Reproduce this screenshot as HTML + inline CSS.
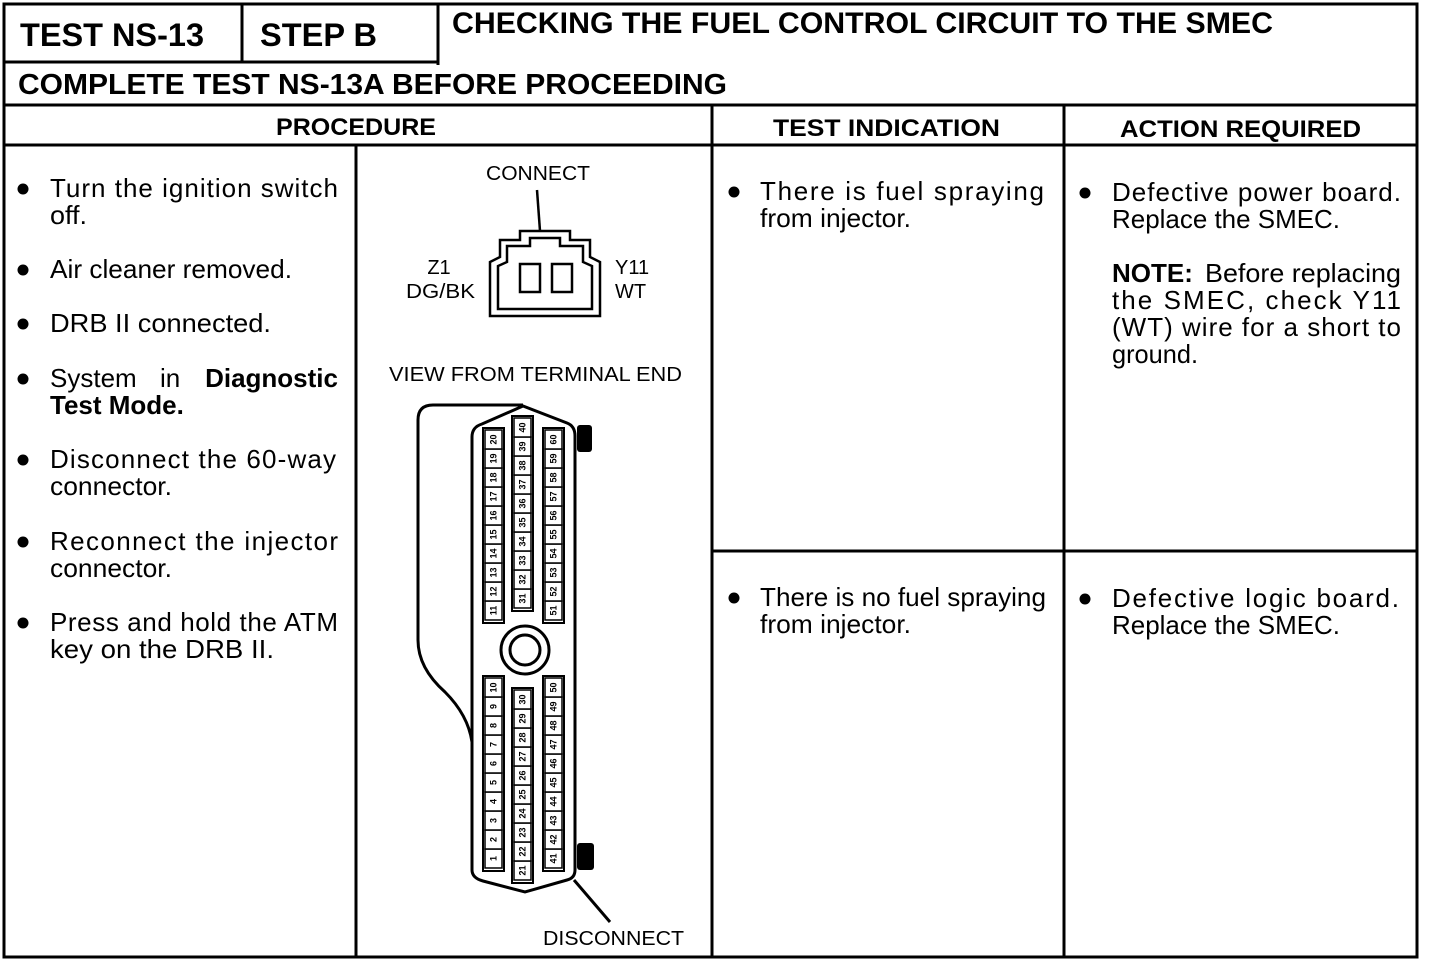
<!DOCTYPE html>
<html><head><meta charset="utf-8"><style>
html,body{margin:0;padding:0;background:#fff}
svg{display:block}
text{font-family:"Liberation Sans",Arial,sans-serif;fill:#000}
.b{font-weight:bold}
.t{font-size:26px}
.p rect{fill:#fff;stroke:#000;stroke-width:1.5}
.p text{font-size:9px;font-weight:bold;text-anchor:middle;dominant-baseline:central}
</style></head><body>
<svg width="1440" height="966" viewBox="0 0 1440 966" xmlns="http://www.w3.org/2000/svg">
<g stroke="#000" stroke-width="3" fill="none">
<rect x="4" y="4" width="1413" height="953"/>
<line x1="4" y1="62" x2="438" y2="62"/>
<line x1="242" y1="4" x2="242" y2="62"/>
<line x1="438" y1="4" x2="438" y2="65"/>
<line x1="4" y1="105" x2="1417" y2="105"/>
<line x1="4" y1="145" x2="1417" y2="145"/>
<line x1="712" y1="105" x2="712" y2="957"/>
<line x1="1064" y1="105" x2="1064" y2="957"/>
<line x1="356" y1="145" x2="356" y2="957"/>
<line x1="712" y1="551" x2="1417" y2="551"/>
</g>
<text x="20" y="46" class="b" font-size="32" textLength="184" lengthAdjust="spacingAndGlyphs">TEST NS-13</text>
<text x="260" y="46" class="b" font-size="32" textLength="117" lengthAdjust="spacingAndGlyphs">STEP B</text>
<text x="452" y="33" class="b" font-size="30" textLength="821" lengthAdjust="spacingAndGlyphs">CHECKING THE FUEL CONTROL CIRCUIT TO THE SMEC</text>
<text x="18" y="94" class="b" font-size="29" textLength="709" lengthAdjust="spacingAndGlyphs">COMPLETE TEST NS-13A BEFORE PROCEEDING</text>
<text x="276" y="135" class="b" font-size="24" textLength="160" lengthAdjust="spacingAndGlyphs">PROCEDURE</text>
<text x="773" y="136" class="b" font-size="24" textLength="227" lengthAdjust="spacingAndGlyphs">TEST INDICATION</text>
<text x="1120" y="137" class="b" font-size="24" textLength="241" lengthAdjust="spacingAndGlyphs">ACTION REQUIRED</text>
<g fill="#000">
<circle cx="23" cy="189" r="5.5"/><circle cx="23" cy="270" r="5.5"/><circle cx="23" cy="324" r="5.5"/>
<circle cx="23" cy="379" r="5.5"/><circle cx="23" cy="460" r="5.5"/><circle cx="23" cy="542" r="5.5"/>
<circle cx="23" cy="623" r="5.5"/>
<circle cx="734" cy="192" r="5.5"/><circle cx="734" cy="598" r="5.5"/>
<circle cx="1085" cy="193" r="5.5"/><circle cx="1085" cy="599" r="5.5"/>
</g>
<g class="t">
<text x="50" y="197" textLength="288" lengthAdjust="spacing">Turn the ignition switch</text>
<text x="50" y="224" textLength="37" lengthAdjust="spacingAndGlyphs">off.</text>
<text x="50" y="278" textLength="242" lengthAdjust="spacingAndGlyphs">Air cleaner removed.</text>
<text x="50" y="332" textLength="221" lengthAdjust="spacingAndGlyphs">DRB II connected.</text>
<text x="50" y="387">System</text><text x="160" y="387">in</text>
<text x="338" y="387" class="b" text-anchor="end">Diagnostic</text>
<text x="50" y="414" class="b">Test Mode.</text>
<text x="50" y="468" textLength="286" lengthAdjust="spacing">Disconnect the 60-way</text>
<text x="50" y="495" textLength="122" lengthAdjust="spacingAndGlyphs">connector.</text>
<text x="50" y="550" textLength="288" lengthAdjust="spacing">Reconnect the injector</text>
<text x="50" y="577" textLength="122" lengthAdjust="spacingAndGlyphs">connector.</text>
<text x="50" y="631" textLength="288" lengthAdjust="spacing">Press and hold the ATM</text>
<text x="50" y="658" textLength="224" lengthAdjust="spacingAndGlyphs">key on the DRB II.</text>

<text x="760" y="200" textLength="284" lengthAdjust="spacing">There is fuel spraying</text>
<text x="760" y="227" textLength="151" lengthAdjust="spacingAndGlyphs">from injector.</text>
<text x="760" y="606" textLength="286" lengthAdjust="spacingAndGlyphs">There is no fuel spraying</text>
<text x="760" y="633" textLength="151" lengthAdjust="spacingAndGlyphs">from injector.</text>

<text x="1112" y="201" textLength="289" lengthAdjust="spacing">Defective power board.</text>
<text x="1112" y="228" textLength="228" lengthAdjust="spacingAndGlyphs">Replace the SMEC.</text>
<text x="1112" y="282" class="b">NOTE:</text>
<text x="1401" y="282" text-anchor="end" textLength="196" lengthAdjust="spacingAndGlyphs">Before replacing</text>
<text x="1112" y="309" textLength="289" lengthAdjust="spacing">the SMEC, check Y11</text>
<text x="1112" y="336" textLength="289" lengthAdjust="spacing">(WT) wire for a short to</text>
<text x="1112" y="363" textLength="86" lengthAdjust="spacingAndGlyphs">ground.</text>
<text x="1112" y="607" textLength="287" lengthAdjust="spacing">Defective logic board.</text>
<text x="1112" y="634" textLength="228" lengthAdjust="spacingAndGlyphs">Replace the SMEC.</text>
</g>
<g font-size="20">
<text x="486" y="180" textLength="104" lengthAdjust="spacingAndGlyphs">CONNECT</text>
<text x="439" y="274" text-anchor="middle">Z1</text>
<text x="406" y="298" textLength="69" lengthAdjust="spacingAndGlyphs">DG/BK</text>
<text x="615" y="274">Y11</text>
<text x="615" y="298">WT</text>
<text x="389" y="381" textLength="293" lengthAdjust="spacingAndGlyphs">VIEW FROM TERMINAL END</text>
<text x="543" y="945" textLength="141" lengthAdjust="spacingAndGlyphs">DISCONNECT</text>
</g>
<g stroke="#000" stroke-width="2.5" fill="none">
<line x1="537" y1="190" x2="540" y2="231"/>
<path d="M520,231 L570,231 L570,240 L590,240 L590,257 L600,262 L600,316 L490,316 L490,262 L500,257 L500,240 L520,240 Z"/>
<path d="M530,238 L560,238 L560,246 L583,246 L583,262 L592,266 L592,309 L498,309 L498,266 L507,262 L507,246 L530,246 Z"/>
<rect x="520" y="264" width="20" height="28"/>
<rect x="552" y="264" width="20" height="28"/>
</g>
<g stroke="#000" stroke-width="3" fill="none">
<path d="M472,742 Q468,715 445,692 Q418,668 418,640 L418,420 Q418,405 433,405 L523,405"/>
<path d="M472,870 L472,437 Q472,427 482,424 L523,406 L567,423 Q575,426 575,436 L575,870 Q575,878 567,880 L525,892 L483,881 Q472,878 472,870 Z"/>
<circle cx="525" cy="650" r="24"/>
<circle cx="525" cy="650" r="15"/>
<line x1="574" y1="880" x2="610" y2="922"/>
<rect x="483" y="428" width="21" height="195" stroke-width="2"/>
<rect x="512" y="416" width="21" height="195" stroke-width="2"/>
<rect x="543" y="428" width="21" height="195" stroke-width="2"/>
<rect x="483" y="676" width="21" height="195" stroke-width="2"/>
<rect x="512" y="688" width="21" height="195" stroke-width="2"/>
<rect x="543" y="676" width="21" height="195" stroke-width="2"/>
</g>
<rect x="577" y="425" width="15" height="27" rx="3" fill="#000"/>
<rect x="577" y="843" width="17" height="27" rx="3" fill="#000"/>
<g class="p">
<rect x="485" y="601" width="17" height="19"/><text transform="translate(493.5,610.5)rotate(-90)">11</text>
<rect x="485" y="582" width="17" height="19"/><text transform="translate(493.5,591.5)rotate(-90)">12</text>
<rect x="485" y="563" width="17" height="19"/><text transform="translate(493.5,572.5)rotate(-90)">13</text>
<rect x="485" y="544" width="17" height="19"/><text transform="translate(493.5,553.5)rotate(-90)">14</text>
<rect x="485" y="525" width="17" height="19"/><text transform="translate(493.5,534.5)rotate(-90)">15</text>
<rect x="485" y="506" width="17" height="19"/><text transform="translate(493.5,515.5)rotate(-90)">16</text>
<rect x="485" y="487" width="17" height="19"/><text transform="translate(493.5,496.5)rotate(-90)">17</text>
<rect x="485" y="468" width="17" height="19"/><text transform="translate(493.5,477.5)rotate(-90)">18</text>
<rect x="485" y="449" width="17" height="19"/><text transform="translate(493.5,458.5)rotate(-90)">19</text>
<rect x="485" y="430" width="17" height="19"/><text transform="translate(493.5,439.5)rotate(-90)">20</text>

<rect x="514" y="589" width="17" height="19"/><text transform="translate(522.5,598.5)rotate(-90)">31</text>
<rect x="514" y="570" width="17" height="19"/><text transform="translate(522.5,579.5)rotate(-90)">32</text>
<rect x="514" y="551" width="17" height="19"/><text transform="translate(522.5,560.5)rotate(-90)">33</text>
<rect x="514" y="532" width="17" height="19"/><text transform="translate(522.5,541.5)rotate(-90)">34</text>
<rect x="514" y="513" width="17" height="19"/><text transform="translate(522.5,522.5)rotate(-90)">35</text>
<rect x="514" y="494" width="17" height="19"/><text transform="translate(522.5,503.5)rotate(-90)">36</text>
<rect x="514" y="475" width="17" height="19"/><text transform="translate(522.5,484.5)rotate(-90)">37</text>
<rect x="514" y="456" width="17" height="19"/><text transform="translate(522.5,465.5)rotate(-90)">38</text>
<rect x="514" y="437" width="17" height="19"/><text transform="translate(522.5,446.5)rotate(-90)">39</text>
<rect x="514" y="418" width="17" height="19"/><text transform="translate(522.5,427.5)rotate(-90)">40</text>

<rect x="545" y="601" width="17" height="19"/><text transform="translate(553.5,610.5)rotate(-90)">51</text>
<rect x="545" y="582" width="17" height="19"/><text transform="translate(553.5,591.5)rotate(-90)">52</text>
<rect x="545" y="563" width="17" height="19"/><text transform="translate(553.5,572.5)rotate(-90)">53</text>
<rect x="545" y="544" width="17" height="19"/><text transform="translate(553.5,553.5)rotate(-90)">54</text>
<rect x="545" y="525" width="17" height="19"/><text transform="translate(553.5,534.5)rotate(-90)">55</text>
<rect x="545" y="506" width="17" height="19"/><text transform="translate(553.5,515.5)rotate(-90)">56</text>
<rect x="545" y="487" width="17" height="19"/><text transform="translate(553.5,496.5)rotate(-90)">57</text>
<rect x="545" y="468" width="17" height="19"/><text transform="translate(553.5,477.5)rotate(-90)">58</text>
<rect x="545" y="449" width="17" height="19"/><text transform="translate(553.5,458.5)rotate(-90)">59</text>
<rect x="545" y="430" width="17" height="19"/><text transform="translate(553.5,439.5)rotate(-90)">60</text>

<rect x="485" y="849" width="17" height="19"/><text transform="translate(493.5,858.5)rotate(-90)">1</text>
<rect x="485" y="830" width="17" height="19"/><text transform="translate(493.5,839.5)rotate(-90)">2</text>
<rect x="485" y="811" width="17" height="19"/><text transform="translate(493.5,820.5)rotate(-90)">3</text>
<rect x="485" y="792" width="17" height="19"/><text transform="translate(493.5,801.5)rotate(-90)">4</text>
<rect x="485" y="773" width="17" height="19"/><text transform="translate(493.5,782.5)rotate(-90)">5</text>
<rect x="485" y="754" width="17" height="19"/><text transform="translate(493.5,763.5)rotate(-90)">6</text>
<rect x="485" y="735" width="17" height="19"/><text transform="translate(493.5,744.5)rotate(-90)">7</text>
<rect x="485" y="716" width="17" height="19"/><text transform="translate(493.5,725.5)rotate(-90)">8</text>
<rect x="485" y="697" width="17" height="19"/><text transform="translate(493.5,706.5)rotate(-90)">9</text>
<rect x="485" y="678" width="17" height="19"/><text transform="translate(493.5,687.5)rotate(-90)">10</text>

<rect x="514" y="861" width="17" height="19"/><text transform="translate(522.5,870.5)rotate(-90)">21</text>
<rect x="514" y="842" width="17" height="19"/><text transform="translate(522.5,851.5)rotate(-90)">22</text>
<rect x="514" y="823" width="17" height="19"/><text transform="translate(522.5,832.5)rotate(-90)">23</text>
<rect x="514" y="804" width="17" height="19"/><text transform="translate(522.5,813.5)rotate(-90)">24</text>
<rect x="514" y="785" width="17" height="19"/><text transform="translate(522.5,794.5)rotate(-90)">25</text>
<rect x="514" y="766" width="17" height="19"/><text transform="translate(522.5,775.5)rotate(-90)">26</text>
<rect x="514" y="747" width="17" height="19"/><text transform="translate(522.5,756.5)rotate(-90)">27</text>
<rect x="514" y="728" width="17" height="19"/><text transform="translate(522.5,737.5)rotate(-90)">28</text>
<rect x="514" y="709" width="17" height="19"/><text transform="translate(522.5,718.5)rotate(-90)">29</text>
<rect x="514" y="690" width="17" height="19"/><text transform="translate(522.5,699.5)rotate(-90)">30</text>

<rect x="545" y="849" width="17" height="19"/><text transform="translate(553.5,858.5)rotate(-90)">41</text>
<rect x="545" y="830" width="17" height="19"/><text transform="translate(553.5,839.5)rotate(-90)">42</text>
<rect x="545" y="811" width="17" height="19"/><text transform="translate(553.5,820.5)rotate(-90)">43</text>
<rect x="545" y="792" width="17" height="19"/><text transform="translate(553.5,801.5)rotate(-90)">44</text>
<rect x="545" y="773" width="17" height="19"/><text transform="translate(553.5,782.5)rotate(-90)">45</text>
<rect x="545" y="754" width="17" height="19"/><text transform="translate(553.5,763.5)rotate(-90)">46</text>
<rect x="545" y="735" width="17" height="19"/><text transform="translate(553.5,744.5)rotate(-90)">47</text>
<rect x="545" y="716" width="17" height="19"/><text transform="translate(553.5,725.5)rotate(-90)">48</text>
<rect x="545" y="697" width="17" height="19"/><text transform="translate(553.5,706.5)rotate(-90)">49</text>
<rect x="545" y="678" width="17" height="19"/><text transform="translate(553.5,687.5)rotate(-90)">50</text>
</g>
</svg>
</body></html>
